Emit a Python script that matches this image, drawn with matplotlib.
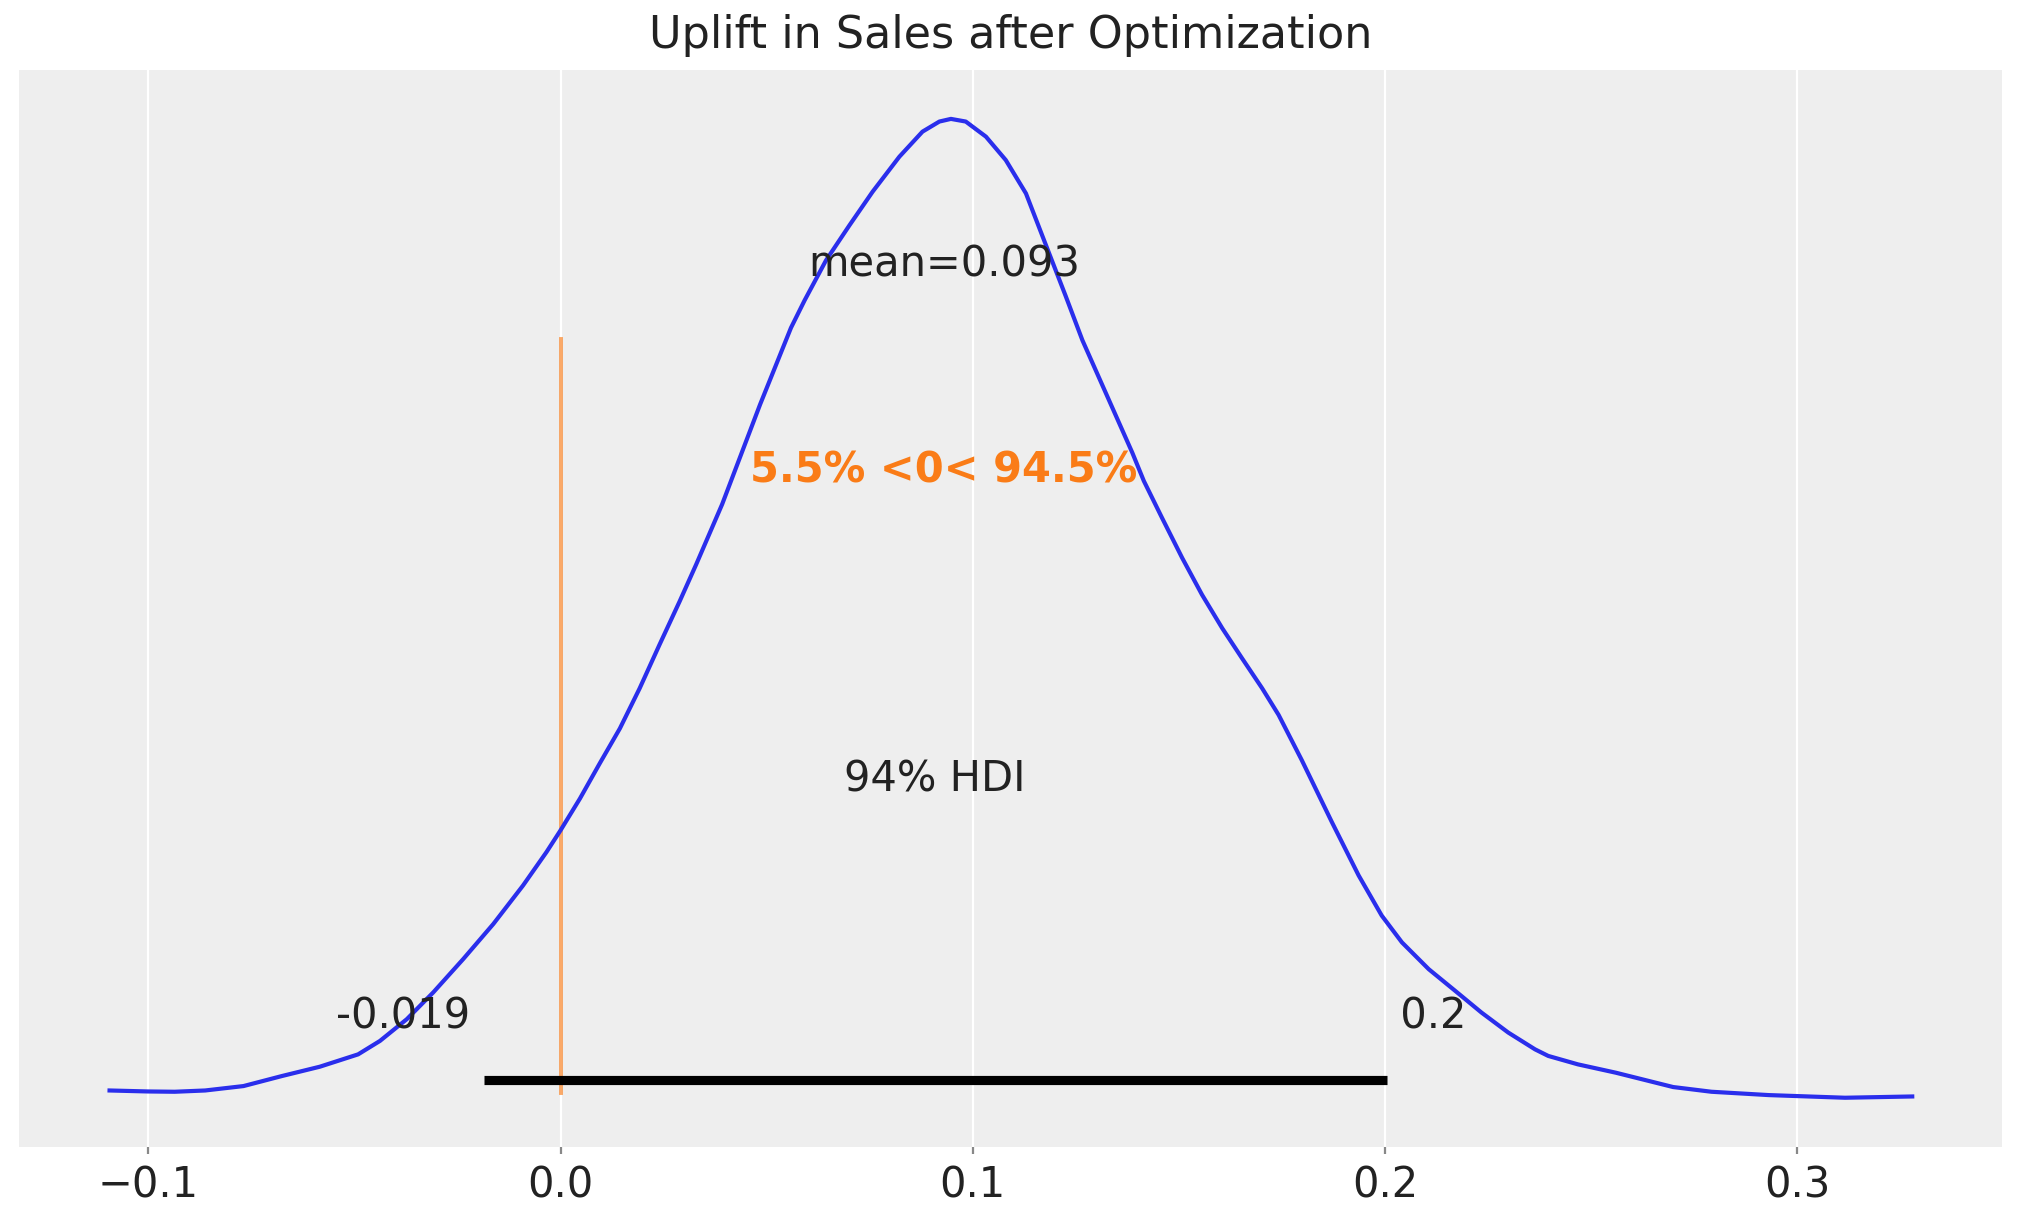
import matplotlib
matplotlib.use("Agg")
import matplotlib.pyplot as plt
import numpy as np

plt.rcParams['font.family'] = ['DejaVu Sans']

# KDE of the uplift posterior (density normalised to peak = 1)
uplift_x = [-0.1094, -0.1001, -0.0936, -0.0862, -0.0769, -0.0676, -0.0584, -0.0491,
            -0.0438, -0.0373, -0.0309, -0.0236, -0.0163, -0.0091, -0.0034, 0.0000,
            0.0047, 0.0095, 0.0144, 0.0192, 0.0240, 0.0289, 0.0329, 0.0392, 0.0484,
            0.0559, 0.0592, 0.0644, 0.0701, 0.0757, 0.0822, 0.0878, 0.0919, 0.0947,
            0.0983, 0.1032, 0.1080, 0.1129, 0.1177, 0.1225, 0.1266, 0.1387, 0.1415,
            0.1459, 0.1508, 0.1556, 0.1605, 0.1653, 0.1702, 0.1742, 0.1798, 0.1871,
            0.1936, 0.1992, 0.2041, 0.2106, 0.2170, 0.2234, 0.2299, 0.2364, 0.2396,
            0.2468, 0.2560, 0.2699, 0.2792, 0.2931, 0.3116, 0.3279]
uplift_density = [0.0103, 0.0093, 0.0090, 0.0103, 0.0148, 0.0250, 0.0345, 0.0471,
                  0.0608, 0.0829, 0.1101, 0.1442, 0.1799, 0.2191, 0.2532, 0.2753,
                  0.3076, 0.3434, 0.3791, 0.4200, 0.4643, 0.5086, 0.5461, 0.6074, 0.7090,
                  0.7872, 0.8151, 0.8559, 0.8917, 0.9258, 0.9615, 0.9870, 0.9973, 1.0000,
                  0.9973, 0.9819, 0.9581, 0.9241, 0.8720, 0.8200, 0.7745, 0.6600, 0.6312,
                  0.5937, 0.5528, 0.5154, 0.4813, 0.4507, 0.4200, 0.3928, 0.3469, 0.2838,
                  0.2294, 0.1885, 0.1612, 0.1339, 0.1119, 0.0897, 0.0693, 0.0522, 0.0455,
                  0.0369, 0.0284, 0.0138, 0.0090, 0.0056, 0.0029, 0.0042]

mean_value = 0.093
mean_label = "mean=0.093"
hdi_bounds = [-0.0186, 0.2004]
hdi_labels = ["-0.019 ", " 0.2"]
hdi_text = "94% HDI"
ref_value = 0.0
ref_text = "5.5% <0< 94.5%"
title = "Uplift in Sales after Optimization"
xticks = [-0.1, 0.0, 0.1, 0.2, 0.3]
xtick_labels = ["\u22120.1", "0.0", "0.1", "0.2", "0.3"]

BLUE = "#2a2eec"
ORANGE = "#fa7c17"
TEXT = "#222222"

fig = plt.figure(figsize=(2023 / 200, 1223 / 200), dpi=200)
ax = fig.add_axes([0.0096, 0.0624, 0.9802, 0.8804])
ax.set_facecolor("#eeeeee")
for s in ax.spines.values():
    s.set_visible(False)

ax.plot(uplift_x, uplift_density, color=BLUE, lw=1.5, zorder=3,
        solid_joinstyle="round")
ax.margins(x=0.05, y=0.05)
fig.canvas.draw()
plot_height = ax.get_ylim()[1]

ax.plot(hdi_bounds, [plot_height * 0.02] * 2, color="k", lw=3.3,
        solid_capstyle="butt", zorder=4)
ax.text(hdi_bounds[0], plot_height * 0.07, hdi_labels[0], size=15,
        ha="right", color=TEXT)
ax.text(hdi_bounds[1], plot_height * 0.07, hdi_labels[1], size=15,
        ha="left", color=TEXT)
ax.text(np.mean(hdi_bounds), plot_height * 0.3, hdi_text, size=15,
        ha="center", color=TEXT)
ax.text(mean_value, plot_height * 0.8, mean_label, size=15, ha="center", color=TEXT)

ax.axvline(ref_value, ymin=0.05, ymax=0.75, lw=1.4, alpha=0.65, color=ORANGE, zorder=2)
ax.text(mean_value, plot_height * 0.6, ref_text, size=15, weight="semibold",
        ha="center", color=ORANGE)

ax.set_yticks([])
ax.set_xticks(xticks)
ax.set_xticklabels(xtick_labels)
ax.tick_params(axis="x", length=2.5, width=0.8, color="#888888", labelsize=15,
               labelcolor=TEXT, pad=4)
ax.grid(axis="x", color="white", lw=0.8)
ax.set_axisbelow(True)
ax.set_title(title, size=16, color=TEXT, pad=8)

fig.savefig("out.png", dpi=200)
